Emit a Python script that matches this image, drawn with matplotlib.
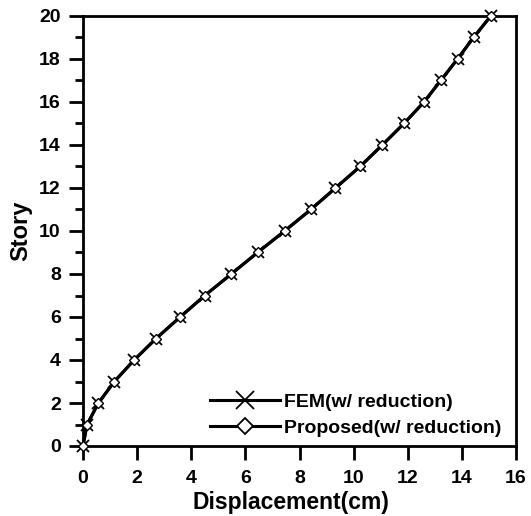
import matplotlib
matplotlib.use("Agg")
import matplotlib.pyplot as plt
from matplotlib.ticker import MultipleLocator

plt.rcParams['font.family'] = ['Liberation Sans', 'DejaVu Sans']
plt.rcParams['font.weight'] = 'bold'

story = list(range(21))
fem_disp = [0.0, 0.15, 0.57, 1.16, 1.89, 2.70, 3.59, 4.50, 5.48, 6.45, 7.45,
            8.42, 9.33, 10.24, 11.06, 11.86, 12.60, 13.22, 13.84, 14.43, 15.07]
proposed_disp = [0.0, 0.15, 0.57, 1.16, 1.89, 2.70, 3.59, 4.50, 5.48, 6.45, 7.45,
                 8.42, 9.33, 10.24, 11.06, 11.86, 12.60, 13.22, 13.84, 14.43, 15.07]

fig = plt.figure(figsize=(5.31, 5.16), dpi=100)
ax = fig.add_axes([83 / 531, 1 - 446 / 516, (516 - 83) / 531, (446 - 16) / 516])

ax.plot(fem_disp, story, color='black', lw=2.2, marker='x', ms=9, mew=1.3,
        label='FEM(w/ reduction)', clip_on=False, zorder=3)
ax.plot(proposed_disp, story, color='black', lw=2.2, marker='D', ms=5.5, mew=1.0,
        mfc='white', label='Proposed(w/ reduction)', clip_on=False, zorder=4)

ax.set_xlim(0, 16)
ax.set_ylim(0, 20)
ax.xaxis.set_major_locator(MultipleLocator(2))
ax.yaxis.set_major_locator(MultipleLocator(2))
ax.yaxis.set_minor_locator(MultipleLocator(1))
ax.tick_params(which='major', direction='out', length=10, width=2, labelsize=14, pad=6)
ax.tick_params(axis='x', which='major', pad=7)
ax.tick_params(which='minor', direction='out', length=6, width=2)
for s in ax.spines.values():
    s.set_linewidth(2)
for lbl in ax.get_xticklabels() + ax.get_yticklabels():
    lbl.set_fontweight('bold')

ax.set_xlabel('Displacement(cm)', fontsize=16.5, fontweight='bold')
ax.set_ylabel('Story', fontsize=17, fontweight='bold')
ax.xaxis.set_label_coords((291 - 83) / 433, -(502 - 446) / 430)
ax.yaxis.set_label_coords(-(83 - 21) / 433, 0.5)
ax.xaxis.label.set_va('center')
ax.yaxis.label.set_va('center')

leg = ax.legend(loc='lower left', bbox_to_anchor=((210 - 83) / 433, (446 - 437) / 430),
                frameon=False, fontsize=14, handlelength=3.6,
                borderaxespad=0.0, borderpad=0.0, handletextpad=0.2, labelspacing=0.45,
                markerscale=1.4)
for h in leg.legend_handles:
    h.set_markeredgewidth(1.3)
for t in leg.get_texts():
    t.set_fontweight('bold')

fig.savefig('out.png', dpi=100)
